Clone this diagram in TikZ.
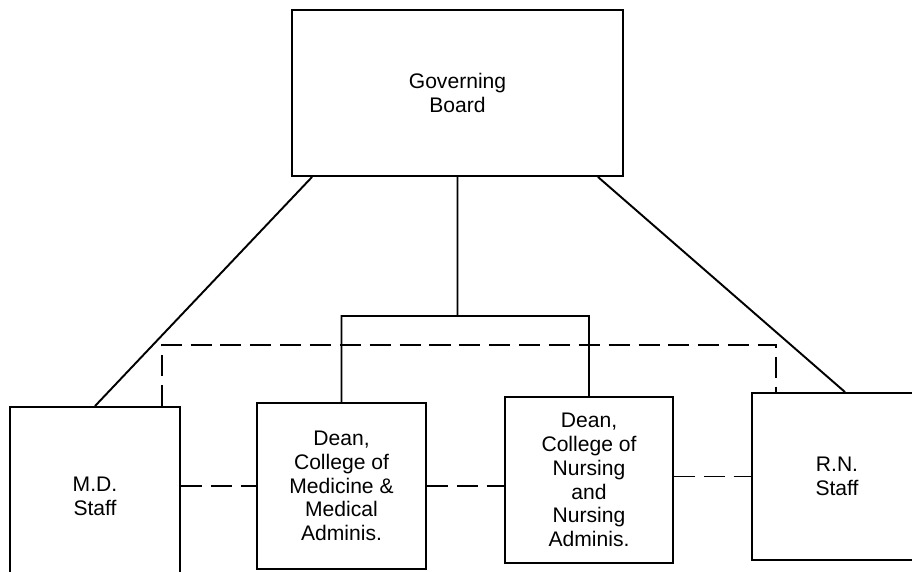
\documentclass[tikz,border=0pt]{standalone}
\usepackage{fontspec}
\setmainfont{Liberation Sans}
\usetikzlibrary{calc}

\begin{document}
\begin{tikzpicture}[
        x = 0.02cm, y = -0.02cm,
      box/.style = {draw, line width=1.1pt, align=center,
                    font=\fontsize{12}{13.5}\selectfont,
                    minimum width=#1},
     link/.style = {draw, line width=1.1pt},
  dashlink/.style = {draw, line width=1.1pt, dash pattern=on 12pt off 5pt},
                        ]
\useasboundingbox (0,0) rectangle (912,571);
\clip (0,0) rectangle (912,571);
\node (board) at (457.5,93) [box=6.62cm, minimum height=3.32cm] {Governing\\Board};
\node (md) at (95,496) [box=3.4cm, minimum height=3.56cm] {M.D.\\Staff};
\node (dmed) at (341.5,486) [box=3.38cm, minimum height=3.32cm]
      {Dean,\\College of\\Medicine \&\\Medical\\Adminis.};
\node (dnur) at (589,480) [box=3.36cm, minimum height=3.32cm]
      {Dean,\\College of\\Nursing\\and\\Nursing\\Adminis.};
\node (rn) at (837,476.5) [box=3.4cm, minimum height=3.34cm] {R.N.\\Staff};
\coordinate (bar) at (462,316);
\coordinate (dtop) at (470,345);

%

\path[link] ([xshift=0.42cm]board.south west) -- (md.north)
            ([xshift=-0.52cm]board.south east) -- ([xshift=0.16cm]rn.north)
            (board.south) -- (board.south |- bar)
            (dmed.north) |- (bar) -| (dnur.north);
\path[dashlink] ([xshift=-0.38cm]md.north east) |- (dtop) -| ([xshift=0.5cm]rn.north west)
            (md.east |- dmed.west) -- (dmed.west)
            (dmed.east) -- (dmed.east -| dnur.west)
            (dnur.east |- rn.west) -- (rn.west);
\end{tikzpicture}
\end{document}
